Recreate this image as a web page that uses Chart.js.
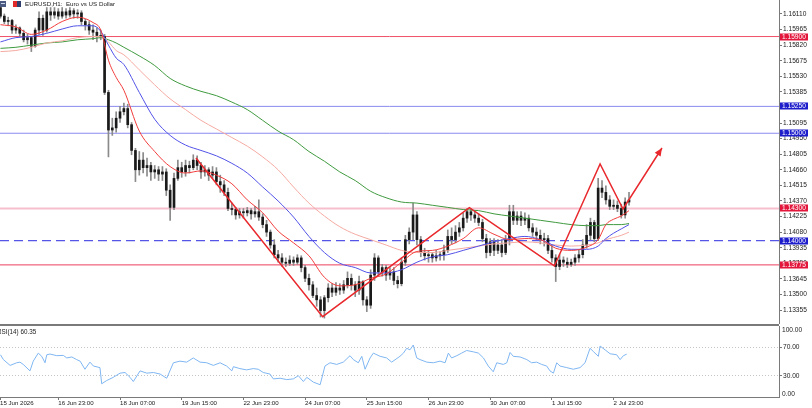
<!DOCTYPE html>
<html><head><meta charset="utf-8">
<script src="https://cdn.jsdelivr.net/npm/chart.js@4.4.1/dist/chart.umd.min.js"></script>
<style>
html,body{margin:0;padding:0;background:#fff;overflow:hidden;}
#wrap{position:relative;width:812px;height:408px;background:#fff;}
#main{position:absolute;left:0;top:0;width:812px;height:324px;}
#rsi{position:absolute;left:0;top:324px;width:812px;height:84px;}
</style></head>
<body><div id="wrap"><canvas id="main" width="812" height="324"></canvas><canvas id="rsi" width="812" height="84"></canvas></div>
<script>
// ---------------- DATA ----------------
const chartTitle = 'EURUSD,H1:  Euro vs US Dollar';
const rsiName = 'RSI(14)';

// 2-hour candles, left to right
const opens = [1.1617,1.1609,1.1604,1.1605,1.1596,1.1598,1.1593,1.1587,1.1589,1.1581,
1.1596,1.1607,1.1596,1.1613,1.1610,1.1613,1.1609,1.1613,1.1610,1.1614,
1.1611,1.1612,1.1604,1.1601,1.1596,1.1594,1.1591,1.1590,1.1538,1.1503,
1.1505,1.1514,1.1520,1.1523,1.1508,1.1484,1.1466,1.1475,1.1468,1.1470,
1.1464,1.1466,1.1462,1.1464,1.1447,1.1431,1.1458,1.1468,1.1464,1.1470,
1.1468,1.1475,1.1470,1.1464,1.1466,1.1461,1.1464,1.1455,1.1452,1.1445,
1.1430,1.1429,1.1424,1.1427,1.1426,1.1428,1.1425,1.1427,1.1422,1.1415,
1.1408,1.1396,1.1387,1.1384,1.1380,1.1379,1.1382,1.1380,1.1384,1.1375,
1.1365,1.1359,1.1349,1.1345,1.1335,1.1347,1.1356,1.1352,1.1356,1.1354,
1.1359,1.1365,1.1359,1.1354,1.1362,1.1345,1.1340,1.1368,1.1384,1.1371,
1.1375,1.1368,1.1371,1.1363,1.1360,1.1380,1.1401,1.1408,1.1424,1.1401,
1.1389,1.1386,1.1387,1.1384,1.1386,1.1387,1.1391,1.1404,1.1401,1.1408,
1.1412,1.1421,1.1427,1.1424,1.1421,1.1417,1.1402,1.1389,1.1399,1.1391,
1.1396,1.1389,1.1401,1.1427,1.1419,1.1423,1.1419,1.1421,1.1412,1.1408,
1.1405,1.1401,1.1402,1.1391,1.1384,1.1376,1.1382,1.1380,1.1378,1.1380,
1.1384,1.1387,1.1396,1.1405,1.1417,1.1402,1.1449,1.1445,1.1438,1.1432,
1.1433,1.1430,1.1424,1.1436];
const highs = [1.1619,1.1611,1.1608,1.1606,1.1601,1.1599,1.1596,1.1592,1.1590,1.1598,
1.1613,1.1610,1.1617,1.1617,1.1617,1.1616,1.1617,1.1616,1.1617,1.1616,
1.1615,1.1614,1.1606,1.1604,1.1601,1.1598,1.1596,1.1592,1.1540,1.1514,
1.1520,1.1525,1.1528,1.1527,1.1510,1.1486,1.1483,1.1482,1.1477,1.1473,
1.1470,1.1469,1.1469,1.1467,1.1452,1.1463,1.1475,1.1473,1.1475,1.1474,
1.1480,1.1479,1.1473,1.1470,1.1468,1.1469,1.1468,1.1461,1.1456,1.1449,
1.1435,1.1431,1.1430,1.1430,1.1431,1.1430,1.1432,1.1438,1.1425,1.1419,
1.1410,1.1401,1.1391,1.1388,1.1384,1.1386,1.1385,1.1387,1.1386,1.1377,
1.1369,1.1362,1.1356,1.1348,1.1349,1.1360,1.1360,1.1361,1.1360,1.1363,
1.1371,1.1369,1.1362,1.1367,1.1363,1.1348,1.1373,1.1388,1.1386,1.1378,
1.1377,1.1375,1.1375,1.1367,1.1384,1.1405,1.1412,1.1435,1.1427,1.1404,
1.1393,1.1391,1.1389,1.1391,1.1390,1.1396,1.1410,1.1412,1.1414,1.1417,
1.1426,1.1430,1.1430,1.1428,1.1425,1.1420,1.1406,1.1402,1.1402,1.1401,
1.1401,1.1405,1.1433,1.1433,1.1427,1.1427,1.1426,1.1424,1.1416,1.1412,
1.1410,1.1407,1.1405,1.1396,1.1387,1.1387,1.1385,1.1384,1.1383,1.1387,
1.1391,1.1401,1.1415,1.1421,1.1419,1.1458,1.1456,1.1451,1.1442,1.1438,
1.1437,1.1434,1.1440,1.1445];
const lows = [1.1607,1.1602,1.1600,1.1593,1.1593,1.1590,1.1585,1.1583,1.1576,1.1580,
1.1592,1.1591,1.1594,1.1605,1.1607,1.1606,1.1607,1.1607,1.1608,1.1607,
1.1607,1.1601,1.1596,1.1592,1.1587,1.1585,1.1587,1.1536,1.1478,1.1498,
1.1501,1.1510,1.1517,1.1505,1.1480,1.1455,1.1461,1.1463,1.1460,1.1456,
1.1458,1.1456,1.1456,1.1442,1.1419,1.1429,1.1456,1.1459,1.1460,1.1463,
1.1466,1.1466,1.1458,1.1460,1.1456,1.1458,1.1452,1.1445,1.1442,1.1428,
1.1424,1.1420,1.1421,1.1421,1.1423,1.1420,1.1422,1.1419,1.1412,1.1404,
1.1393,1.1384,1.1380,1.1376,1.1376,1.1377,1.1377,1.1378,1.1371,1.1362,
1.1354,1.1347,1.1339,1.1329,1.1328,1.1343,1.1348,1.1349,1.1350,1.1351,
1.1356,1.1354,1.1348,1.1350,1.1340,1.1334,1.1337,1.1363,1.1367,1.1367,
1.1363,1.1364,1.1359,1.1356,1.1358,1.1377,1.1397,1.1401,1.1396,1.1385,
1.1382,1.1380,1.1380,1.1381,1.1382,1.1382,1.1389,1.1397,1.1398,1.1404,
1.1409,1.1417,1.1419,1.1417,1.1414,1.1399,1.1384,1.1386,1.1386,1.1388,
1.1385,1.1387,1.1396,1.1415,1.1415,1.1414,1.1415,1.1409,1.1404,1.1401,
1.1397,1.1395,1.1388,1.1380,1.1362,1.1373,1.1376,1.1375,1.1376,1.1377,
1.1380,1.1384,1.1393,1.1401,1.1399,1.1400,1.1440,1.1434,1.1429,1.1429,
1.1427,1.1421,1.1421,1.1433];
const closes = [1.1609,1.1604,1.1605,1.1596,1.1598,1.1593,1.1587,1.1589,1.1581,1.1596,
1.1607,1.1596,1.1613,1.1610,1.1613,1.1609,1.1613,1.1610,1.1614,1.1611,
1.1612,1.1604,1.1601,1.1596,1.1594,1.1591,1.1590,1.1538,1.1503,1.1505,
1.1514,1.1520,1.1523,1.1508,1.1484,1.1466,1.1475,1.1468,1.1470,1.1464,
1.1466,1.1462,1.1464,1.1447,1.1431,1.1458,1.1468,1.1464,1.1470,1.1468,
1.1475,1.1470,1.1464,1.1466,1.1461,1.1464,1.1455,1.1452,1.1445,1.1430,
1.1429,1.1424,1.1427,1.1426,1.1428,1.1425,1.1427,1.1422,1.1415,1.1408,
1.1396,1.1387,1.1384,1.1380,1.1379,1.1382,1.1380,1.1384,1.1375,1.1365,
1.1359,1.1349,1.1345,1.1335,1.1347,1.1356,1.1352,1.1356,1.1354,1.1359,
1.1365,1.1359,1.1354,1.1362,1.1345,1.1340,1.1368,1.1384,1.1371,1.1375,
1.1368,1.1371,1.1363,1.1360,1.1380,1.1401,1.1408,1.1424,1.1401,1.1389,
1.1386,1.1387,1.1384,1.1386,1.1387,1.1391,1.1404,1.1401,1.1408,1.1412,
1.1421,1.1427,1.1424,1.1421,1.1417,1.1402,1.1389,1.1399,1.1391,1.1396,
1.1389,1.1401,1.1427,1.1419,1.1423,1.1419,1.1421,1.1412,1.1408,1.1405,
1.1401,1.1402,1.1391,1.1384,1.1376,1.1382,1.1380,1.1378,1.1380,1.1384,
1.1387,1.1396,1.1405,1.1417,1.1402,1.1449,1.1445,1.1438,1.1432,1.1433,
1.1430,1.1424,1.1436,1.1438];

// moving averages, sampled at hourly-bar positions
const maIdx = [0,8,16,24,32,40,48,52,56,60,64,72,80,88,96,104,112,120,128,136,144,152,160,168,176,184,192,200,208,216,224,232,240,248,256,264,272,280,288,296,304,310,314,318,322,326];
const maRed = [1.1601,1.1599,1.1592,1.1596,1.1604,1.1608,1.1603,1.1596,1.1568,1.1552,1.1540,1.1502,1.1483,1.1469,1.1463,1.1465,1.1461,1.1453,1.1438,1.1426,1.1409,1.1398,1.1386,1.1366,1.1358,1.1359,1.1365,1.1369,1.1380,1.1390,1.1391,1.1395,1.1402,1.1412,1.1406,1.1401,1.1402,1.1401,1.1393,1.1391,1.1394,1.1401,1.1415,1.1420,1.1423,1.1428];
const maBlue = [1.1585,1.1589,1.1590,1.1593,1.1597,1.1600,1.1600,1.1595,1.1582,1.1570,1.1564,1.1538,1.1513,1.1498,1.1489,1.1484,1.1479,1.1472,1.1463,1.1450,1.1437,1.1422,1.1404,1.1389,1.1379,1.1375,1.1370,1.1370,1.1373,1.1380,1.1385,1.1387,1.1391,1.1395,1.1399,1.1402,1.1404,1.1401,1.1395,1.1392,1.1392,1.1395,1.1402,1.1407,1.1411,1.1415];
const maSalmon = [1.1576,1.1577,1.1580,1.1584,1.1586,1.1589,1.1590,1.1590,1.1585,1.1577,1.1573,1.1559,1.1545,1.1532,1.1522,1.1512,1.1504,1.1496,1.1488,1.1478,1.1466,1.1450,1.1435,1.1423,1.1413,1.1406,1.1401,1.1396,1.1391,1.1389,1.1389,1.1391,1.1393,1.1395,1.1397,1.1398,1.1399,1.1398,1.1396,1.1395,1.1396,1.1398,1.1401,1.1403,1.1405,1.1408];
const maGreen = [1.1579,1.1580,1.1582,1.1584,1.1585,1.1587,1.1588,1.1589,1.1587,1.1584,1.1580,1.1572,1.1563,1.1551,1.1544,1.1539,1.1535,1.1529,1.1522,1.1512,1.1502,1.1494,1.1483,1.1474,1.1464,1.1456,1.1446,1.1440,1.1436,1.1435,1.1433,1.1431,1.1429,1.1428,1.1425,1.1423,1.1421,1.1419,1.1417,1.1415,1.1414,1.1414,1.1415,1.1415,1.1415,1.1416];

// horizontal levels
const levelPrices = [1.15900,1.15250,1.15000,1.14300,1.14000,1.13775];

// zigzag pattern
const zzIdx = [101.4,167.1,243.2,287.3,311.0,322.9,343.1];
const zzPrice = [1.14770,1.13293,1.14307,1.13765,1.14714,1.14295,1.14863];

// RSI(14)
const rsiIdx = [0,1.5,5,8.4,10.1,11.8,15.3,17,19.6,21.4,23.1,24,25.7,29.2,32.6,34.4,37,39.5,41.3,43.8,46.4,48.2,51.6,52.5,55.1,58.5,62,64.6,67.2,68.9,72.4,75.9,79.3,82.8,86.2,89.7,93.1,96.6,100,103.5,107,110.4,113.9,117.3,120,120.8,124.2,127.7,131.1,133.7,136.3,139.8,141.5,145,148.5,151.9,154.5,157.1,158.9,162.3,165.8,168.3,170.9,174.4,177.8,181.3,183,185.6,187.4,189.1,191.7,193.4,196.9,200.3,202.9,207.2,209,210.7,212.4,214.1,215.9,217.6,221.1,224.5,228,230.6,232.3,234,236.7,239.2,241.8,245.3,247.9,250.5,253,255.6,257.4,260.8,262.6,264.3,266,269.5,273,275.5,278.1,280.7,283.3,285,286.8,288.5,290.2,293.7,297.1,300.6,303.2,305.8,307.5,310.1,311,313.6,316.2,319.6,321.4,323.1,324.8];
const rsiVal = [59.5,52.7,44.5,48.2,49.1,45.9,36.8,50.5,61.8,57.3,48.2,59.5,60.5,58.2,58.6,55,56.4,52.7,50.5,39.1,49.1,43.6,41.4,18.6,23.2,27.7,33.6,34.5,27.7,21.8,36.8,33.6,34.5,32.3,26.4,48.2,50.5,49.1,55,49.1,48.2,44.5,48.2,43.6,36.8,42.7,40,38.2,40,39.1,34.5,32.3,25.5,26.4,24.5,25.5,30,21.8,27.7,20.9,17.3,43.6,48.2,45.9,49.1,58.2,52.7,48.2,57.3,39.1,55,61.8,57.3,55,49.1,57.3,61.8,68.6,66.4,73.2,55,52.7,49.1,48.2,50.5,48.2,61.8,55,58.2,61.8,65.5,63.6,61.8,55,43.6,35.5,48.2,45.9,48.2,62.7,57.3,56.4,52.7,48.2,49.1,45.9,43.6,36.8,33.6,48.2,43.6,41.4,39.1,41.4,48.2,68.6,64.1,57.3,71.8,66.4,60.9,59.5,52.7,58.2,60.35];

// axis ticks
const priceTicks = [1.16110,1.15965,1.15820,1.15675,1.15530,1.15385,1.15240,1.15095,1.14950,1.14805,1.14660,1.14515,1.14370,1.14225,1.14080,1.13935,1.13790,1.13645,1.13500,1.13355];
const rsiTicks = [30,70];
const timeTickIdx = [-0.25,30,62,94,126,158,190,222,254,286,318];
const timeTickLabels = ['15 Jun 2026','16 Jun 23:00','18 Jun 07:00','19 Jun 15:00','22 Jun 23:00','24 Jun 07:00','25 Jun 15:00','26 Jun 23:00','30 Jun 07:00','1 Jul 15:00','2 Jul 23:00'];

// ---------------- VIEW ----------------
const xMin = -0.25, xMax = 403.8;
const priceMin = 1.13225, priceMax = 1.16240;
const FONT = "'Liberation Sans', Arial, sans-serif";
Chart.defaults.font.family = FONT;
Chart.defaults.font.size = 6.6;

const levelStyles = [
  {color:'#f0506a', width:1, dash:[], box:'#e3173c'},
  {color:'#8a8af0', width:1, dash:[], box:'#1d1dcc'},
  {color:'#8a8af0', width:1, dash:[], box:'#1d1dcc'},
  {color:'#f7bfcd', width:2, dash:[], box:'#e3173c'},
  {color:'#2a2ae0', width:1, dash:[9,5], box:'#1d1dcc'},
  {color:'#ec3f5e', width:1, dash:[], box:'#e3173c'}
];

const step = 2; // each candle covers two hourly slots
const wickData = highs.map((h,i)=>({x:i*step, y:[lows[i], h]}));
const bodyData = opens.map((o,i)=>({x:i*step, y:[o, closes[i]]}));

const datasets = [];
levelPrices.forEach((p,i)=>{
  datasets.push({type:'line', data:[{x:xMin,y:p},{x:xMax,y:p}], borderColor:levelStyles[i].color,
    borderWidth:levelStyles[i].width, borderDash:levelStyles[i].dash, pointRadius:0, order:10});
});
datasets.push({type:'bar', data:wickData, backgroundColor:'#8a8a8a', barThickness:1, grouped:false, order:8, borderWidth:0});
datasets.push({type:'bar', data:bodyData, backgroundColor:'#1a1a1a', barThickness:2, grouped:false, order:7, borderWidth:0, minBarLength:1});
const maDefs = [[maGreen,'#3f9a3f'],[maSalmon,'#f5aaa2'],[maBlue,'#5252e8'],[maRed,'#f23c3c']];
maDefs.forEach((d,j)=>{
  datasets.push({type:'line', data:maIdx.map((x,i)=>({x, y:d[0][i]})), borderColor:d[1], borderWidth:1,
    pointRadius:0, cubicInterpolationMode:'monotone', order:5-j});
});
const zzIndex = datasets.length;
datasets.push({type:'line', data:zzIdx.map((x,i)=>({x, y:zzPrice[i]})), borderColor:'#e8282c', borderWidth:1.5, pointRadius:0, tension:0, order:0});

const mainDecor = {
  id:'mainDecor',
  afterDraw(chart){
    const ctx = chart.ctx, ys = chart.scales.y, a = chart.chartArea;
    ctx.save();
    // window icons
    ctx.fillStyle='#4a5a80'; ctx.fillRect(0,1,6,6);
    ctx.fillStyle='#c9d2e6'; ctx.fillRect(1,3,4,1);
    ctx.fillStyle='#e02a2a'; ctx.fillRect(13,1,4,6);
    ctx.fillStyle='#2f3f6e'; ctx.fillRect(17,1,4,6);
    // title
    ctx.fillStyle='#1a1a1a'; ctx.font='6.2px '+FONT; ctx.textBaseline='middle'; ctx.textAlign='left';
    ctx.fillText(chartTitle, 25, 4.5);
    // level price boxes
    ctx.font='6.6px '+FONT;
    levelPrices.forEach((p,i)=>{
      const y = Math.round(ys.getPixelForValue(p));
      ctx.fillStyle = levelStyles[i].box;
      ctx.fillRect(a.right+1, y-3.5, 28, 7);
      ctx.fillStyle = '#ffffff';
      ctx.fillText(p.toFixed(5), a.right+3, y+0.5);
    });
    // arrow head on zigzag
    const pts = chart.getDatasetMeta(zzIndex).data;
    const p1 = pts[pts.length-2], p2 = pts[pts.length-1];
    const ang = Math.atan2(p2.y-p1.y, p2.x-p1.x);
    const L = 8, W = 3.5;
    ctx.save();
    ctx.beginPath();
    ctx.rect(a.left, a.top, a.right-a.left, a.bottom-a.top); ctx.clip();
    ctx.fillStyle = '#e8282c';
    ctx.beginPath();
    ctx.moveTo(p2.x, p2.y);
    ctx.lineTo(p2.x - L*Math.cos(ang) + W*Math.sin(ang), p2.y - L*Math.sin(ang) - W*Math.cos(ang));
    ctx.lineTo(p2.x - L*Math.cos(ang) - W*Math.sin(ang), p2.y - L*Math.sin(ang) + W*Math.cos(ang));
    ctx.closePath(); ctx.fill();
    ctx.restore();
    ctx.restore();
  }
};

new Chart(document.getElementById('main'), {
  type:'bar',
  data:{datasets},
  options:{
    responsive:false, animation:false, devicePixelRatio:1, events:[],
    layout:{padding:0},
    plugins:{legend:{display:false}, tooltip:{enabled:false}},
    scales:{
      x:{type:'linear', min:xMin, max:xMax, offset:false, display:false, grid:{offset:false}},
      y:{type:'linear', position:'right', min:priceMin, max:priceMax, beginAtZero:false,
        afterBuildTicks:s=>{ s.ticks = priceTicks.map(v=>({value:v})); },
        afterFit:s=>{ s.width = 33; s.paddingTop = 0; s.paddingBottom = 0; },
        ticks:{padding:1, color:'#1a1a1a', font:{size:6.6}, callback:v=>Number(v).toFixed(5)},
        grid:{drawOnChartArea:false, drawTicks:true, tickLength:3, tickColor:'#777'},
        border:{display:true, color:'#7a7a7a', width:1}}
    }
  },
  plugins:[mainDecor]
});

const rsiDecor = {
  id:'rsiDecor',
  afterDraw(chart){
    const ctx = chart.ctx, a = chart.chartArea, ys = chart.scales.y;
    ctx.save();
    ctx.fillStyle='#7a7a7a'; ctx.fillRect(0,0,a.right,2);
    ctx.fillStyle='#1a1a1a'; ctx.textBaseline='middle'; ctx.textAlign='left';
    ctx.font='6.3px '+FONT;
    ctx.fillText(rsiName+' '+rsiVal[rsiVal.length-1].toFixed(2), -3, 8);
    ctx.font='6.6px '+FONT;
    ctx.fillText(ys.max.toFixed(2), a.right+3, ys.getPixelForValue(ys.max)+4);
    ctx.fillText(ys.min.toFixed(2), a.right+3, ys.getPixelForValue(ys.min)-3);
    ctx.restore();
  }
};

new Chart(document.getElementById('rsi'), {
  type:'line',
  data:{datasets:[{data:rsiIdx.map((x,i)=>({x, y:rsiVal[i]})), borderColor:'#7fb6f2', borderWidth:1, pointRadius:0, tension:0}]},
  options:{
    responsive:false, animation:false, devicePixelRatio:1, events:[],
    layout:{padding:{top:2,left:0,right:0,bottom:0}},
    plugins:{legend:{display:false}, tooltip:{enabled:false}},
    scales:{
      x:{type:'linear', min:xMin, max:xMax, position:'bottom', offset:false,
        afterBuildTicks:s=>{ s.ticks = timeTickIdx.map(v=>({value:v})); },
        afterFit:s=>{ s.height = 11; s.paddingLeft = 0; s.paddingRight = 0; },
        ticks:{autoSkip:false, maxRotation:0, minRotation:0, align:'start', padding:0, color:'#1a1a1a', font:{size:6.1},
          callback:(v,i)=>timeTickLabels[i]},
        grid:{drawOnChartArea:false, drawTicks:true, tickLength:3, tickColor:'#777'},
        border:{display:true, color:'#7a7a7a', width:1}},
      y:{type:'linear', position:'right', min:0, max:100,
        afterBuildTicks:s=>{ s.ticks = rsiTicks.map(v=>({value:v})); },
        afterFit:s=>{ s.width = 33; s.paddingTop = 0; s.paddingBottom = 0; },
        ticks:{padding:1, color:'#1a1a1a', font:{size:6.6}, callback:v=>Number(v).toFixed(2)},
        grid:{drawOnChartArea:true, color:'#c4c4c4', lineWidth:1, drawTicks:true, tickLength:3, tickColor:'#777'},
        border:{display:true, color:'#7a7a7a', width:1, dash:[1,2]}}
    }
  },
  plugins:[rsiDecor]
});
</script>
</body></html>
